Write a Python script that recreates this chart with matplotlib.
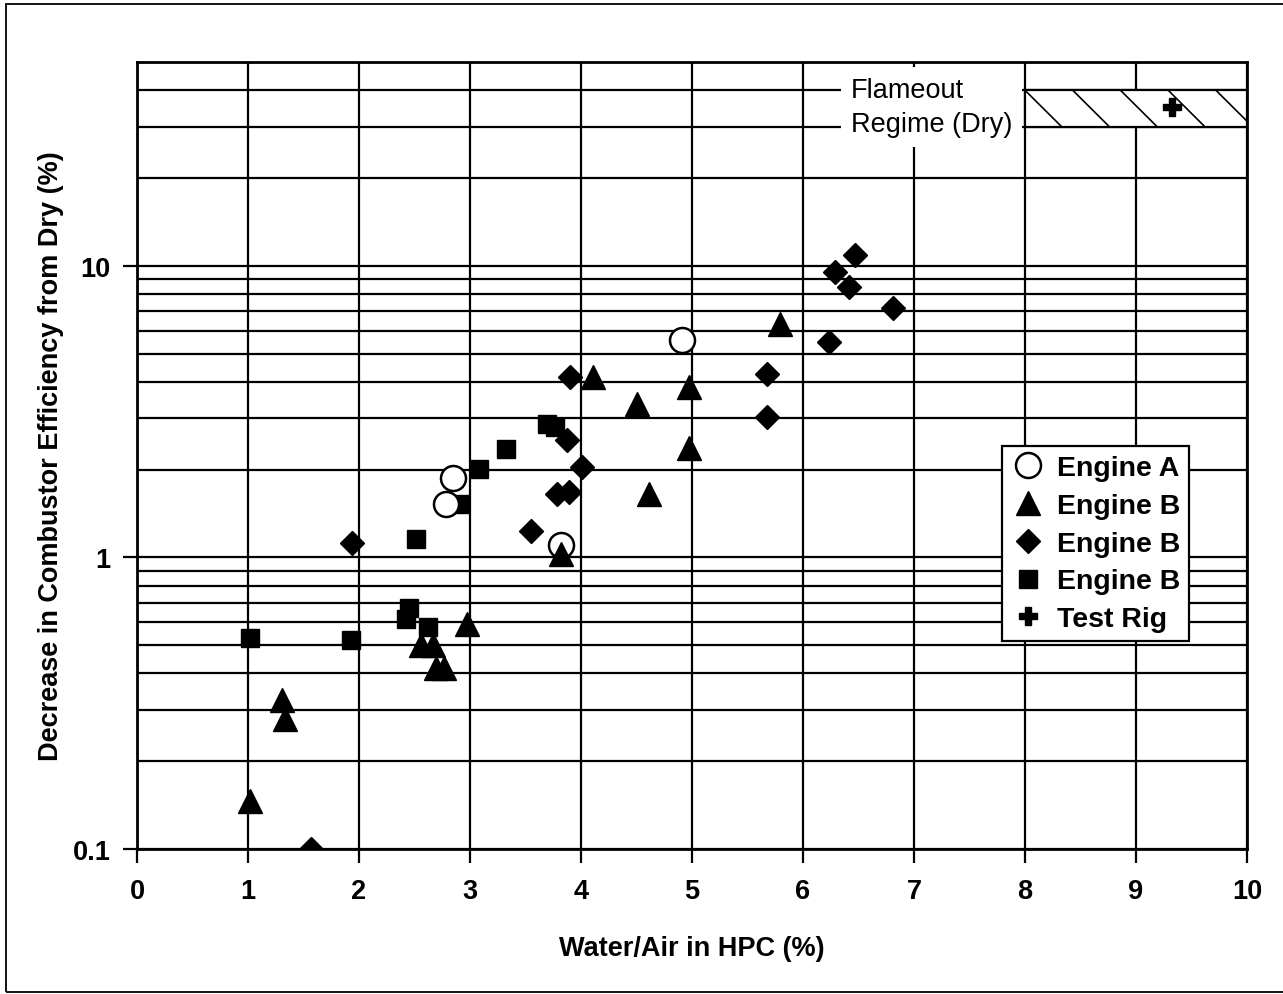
import numpy as np
import matplotlib
matplotlib.use('Agg')
import matplotlib.pyplot as plt
from matplotlib.ticker import FixedLocator, LogLocator, NullFormatter
from matplotlib.patches import Rectangle

plt.rcParams['font.family'] = ['Liberation Sans', 'DejaVu Sans']

# Engine A (open circles)
engA_x = [2.78, 2.85, 3.82, 4.91]
engA_y = [1.53, 1.87, 1.10, 5.58]
# Engine B (triangles)
tri_x = [1.02, 1.31, 1.33, 2.56, 2.67, 2.69, 2.77, 2.97, 3.82, 4.11, 4.50, 4.61, 4.97, 4.97, 5.79]
tri_y = [0.146, 0.324, 0.279, 0.50, 0.50, 0.416, 0.416, 0.59, 1.03, 4.15, 3.35, 1.65, 3.84, 2.38, 6.30]
# Engine B (diamonds)
dia_x = [1.57, 1.94, 3.55, 3.78, 3.89, 4.01, 3.87, 3.90, 5.68, 5.68, 6.23, 6.29, 6.41, 6.47, 6.81]
dia_y = [0.10, 1.12, 1.23, 1.65, 1.68, 2.05, 2.52, 4.17, 3.04, 4.25, 5.50, 9.56, 8.44, 10.9, 7.14]
# Engine B (squares)
sq_x = [1.02, 1.93, 2.42, 2.45, 2.62, 2.51, 2.91, 3.08, 3.32, 3.69, 3.77]
sq_y = [0.53, 0.52, 0.615, 0.67, 0.575, 1.16, 1.52, 2.01, 2.36, 2.87, 2.79]
# Test rig
rig_x = [9.32]
rig_y = [35]

# flameout regime (dry)
flame_x = [8, 10]
flame_y = [30, 40]

labels = ['Engine A', 'Engine B', 'Engine B', 'Engine B', 'Test Rig']
x_ticks = list(range(0, 11))
y_ticks = [0.1, 1, 10]
y_ticklabels = ['0.1', '1', '10']

fig = plt.figure(figsize=(12.83, 9.95), dpi=100)
ax = fig.add_axes([137/1283, 1-850/995, 1110/1283, 787/995])

ax.set_yscale('log')
ax.set_xlim(0, 10)
ax.set_ylim(0.1, 50)

# grid
ax.set_axisbelow(True)
ax.xaxis.set_major_locator(FixedLocator(x_ticks))
ax.yaxis.set_major_locator(FixedLocator(y_ticks))
ax.yaxis.set_minor_locator(LogLocator(base=10, subs=np.arange(2, 10)))
ax.yaxis.set_minor_formatter(NullFormatter())
ax.set_yticklabels(y_ticklabels)
ax.grid(True, which='both', axis='y', color='black', lw=1.6)
ax.grid(True, which='major', axis='x', color='black', lw=1.6)
ax.tick_params(which='major', direction='out', length=10, width=1.6, labelsize=19.5)
ax.tick_params(axis='x', pad=11)
ax.tick_params(axis='y', pad=9)
ax.tick_params(which='minor', length=0)
for lab in ax.get_xticklabels() + ax.get_yticklabels():
    lab.set_fontweight('bold')
for sp in ax.spines.values():
    sp.set_linewidth(2)

# flameout band with sparse hatch
band = Rectangle((flame_x[0], flame_y[0]), flame_x[1]-flame_x[0], flame_y[1]-flame_y[0],
                 fc='white', ec='black', lw=1.6, zorder=2)
ax.add_patch(band)
for x0 in np.arange(flame_x[0], flame_x[1], 0.43):
    ln, = ax.plot([x0, x0+0.33], [flame_y[1], flame_y[0]], color='black', lw=1.2, zorder=2.5)
    ln.set_clip_path(band)

ax.text(6.43, 35.0, 'Flameout\nRegime (Dry)', fontsize=19.5, ha='left', va='center',
        linespacing=1.4, zorder=4,
        bbox=dict(facecolor='white', edgecolor='none', pad=7))

# data
hSq, = ax.plot(sq_x, sq_y, ls='none', marker='s', ms=13, color='black', zorder=5)
hDia, = ax.plot(dia_x, dia_y, ls='none', marker='D', ms=12, color='black', zorder=5)
hA, = ax.plot(engA_x, engA_y, ls='none', marker='o', ms=18, mfc='white', mec='black', mew=1.8, zorder=6)
hTri, = ax.plot(tri_x, tri_y, ls='none', marker='^', ms=17, color='black', zorder=7)
hRig, = ax.plot(rig_x, rig_y, ls='none', marker='P', ms=13, color='black', zorder=7)

leg = ax.legend([hA, hTri, hDia, hSq, hRig], labels, loc='upper right', bbox_to_anchor=(0.948, 0.512),
                frameon=True, fancybox=False, edgecolor='black', framealpha=1, numpoints=1,
                prop={'weight': 'bold', 'size': 20.5}, handlelength=1.2, handletextpad=0.45,
                borderpad=0.3, labelspacing=0.42, borderaxespad=0)
leg.get_frame().set_linewidth(1.6)
leg.set_zorder(10)

ax.set_xlabel('Water/Air in HPC (%)', fontsize=19.5, fontweight='bold', labelpad=22)
ax.set_ylabel('Decrease in Combustor Efficiency from Dry (%)', fontsize=19.5, fontweight='bold', labelpad=6)

# outer frame of the figure
fig.add_artist(Rectangle((0.005, 0.002), 1.2, 0.993, transform=fig.transFigure,
                         fill=False, ec='black', lw=1.3))

fig.savefig('out.png', dpi=100)
